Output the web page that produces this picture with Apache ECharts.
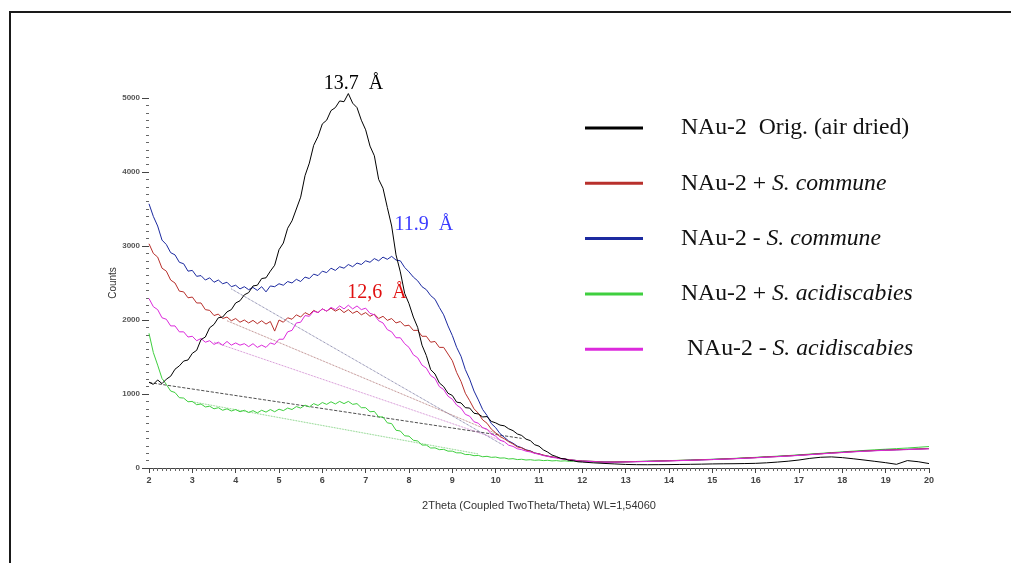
<!DOCTYPE html>
<html>
<head>
<meta charset="utf-8">
<script src="https://cdn.jsdelivr.net/npm/echarts@6/dist/echarts.min.js"></script>
<style>html,body{margin:0;padding:0;background:#fff;}#c{width:1011px;height:563px;}</style>
</head>
<body>
<div id="c"></div>
<script>
// 2Theta positions (deg)
const xLeft = [2.0,2.1,2.2,2.3,2.4,2.5,2.6,2.7,2.8,2.9,
  3.0,3.1,3.2,3.3,3.4,3.5,3.6,3.7,3.8,3.9,
  4.0,4.1,4.2,4.3,4.4,4.5,4.6,4.7,4.8,4.9,
  5.0,5.1,5.2,5.3,5.4,5.5,5.6,5.7,5.8,5.9,
  6.0,6.1,6.2,6.3,6.4,6.5,6.6,6.7,6.8,6.9,
  7.0,7.1,7.2,7.3,7.4,7.5,7.6,7.7,7.8,7.9,
  8.0,8.1,8.2,8.3,8.4,8.5,8.6,8.7,8.8,8.9,
  9.0,9.1,9.2,9.3,9.4,9.5,9.6,9.7,9.8,9.9,
  10.0,10.1,10.2,10.3,10.4,10.5,10.6,10.7,10.8,10.9,
  11.0,11.1,11.2,11.3,11.4,11.5,11.6,11.7,11.8,11.9,
  12.0];
const xRight = [12.25,12.5,12.75,13,13.25,13.5,13.75,14,14.25,14.5,14.75,15,15.25,15.5,15.75,16,
  16.25,16.5,16.75,17,17.25,17.5,17.75,18,18.25,18.5,18.75,19,19.25,19.5,19.75,20];

// Counts
const origLeft = [1160,1130,1190,1140,1200,1240,1335,1380,1445,1460,
  1550,1590,1735,1770,1895,1940,2030,2040,2110,2140,
  2230,2260,2340,2370,2460,2470,2560,2570,2660,2740,
  2950,3040,3240,3340,3500,3660,3950,4120,4360,4480,
  4650,4700,4830,4870,4960,4950,5060,4930,4870,4700,
  4570,4350,4220,3900,3780,3520,3270,2880,2650,2360,
  2220,2040,1900,1660,1520,1330,1270,1150,1100,1010,
  980,890,880,815,810,740,730,690,695,630,
  610,580,570,530,505,460,440,390,370,315,
  295,245,215,175,155,130,122,102,97,84,
  80];
const origRight = [70,62,55,48,45,44,45,46,48,50,52,55,57,58,60,63,70,80,92,108,130,145,150,140,125,108,90,72,50,100,85,60];

const plusCommLeft = [3030,2900,2850,2700,2660,2540,2500,2390,2380,2300,
  2310,2230,2230,2140,2130,2060,2080,2020,2040,1990,
  2020,1970,2000,1960,1995,1950,1990,1945,1980,1850,
  2000,1970,2030,2010,2070,2040,2100,2070,2130,2100,
  2150,2120,2160,2120,2150,2100,2140,2090,2120,2070,
  2100,2050,2080,2020,2050,1995,2020,1960,1980,1920,
  1930,1860,1860,1780,1780,1700,1710,1630,1630,1540,
  1450,1290,1170,1010,910,800,740,650,605,525,
  475,425,395,355,325,285,272,242,228,202,
  190,175,160,150,140,130,120,112,105,100,
  95];
const plusCommRight = [90,80,82,83,88,89,95,97,103,105,112,114,122,126,135,140,150,155,165,172,184,192,204,210,222,228,237,240,248,250,258,262];

const minusCommLeft = [3570,3400,3270,3080,3020,2910,2880,2780,2760,2660,
  2670,2590,2600,2540,2570,2510,2540,2490,2510,2450,
  2470,2420,2450,2410,2440,2400,2450,2380,2460,2450,
  2490,2470,2520,2500,2550,2520,2580,2560,2620,2600,
  2660,2640,2700,2670,2720,2700,2750,2720,2770,2750,
  2800,2780,2830,2800,2850,2820,2860,2810,2800,2710,
  2650,2580,2530,2450,2410,2330,2280,2170,2070,1920,
  1790,1630,1510,1330,1200,1040,920,790,710,600,
  545,465,415,365,335,295,275,245,232,203,
  192,172,162,148,142,128,122,110,106,98,
  95];
const minusCommRight = [88,82,80,84,86,90,93,98,101,106,110,116,120,127,133,141,148,156,163,173,182,193,202,212,220,229,235,242,246,252,256,263];

const plusAcidLeft = [1820,1560,1390,1210,1130,1040,1020,950,945,895,
  900,855,865,825,835,800,815,780,800,770,
  790,760,780,750,775,745,780,755,790,760,
  795,775,810,790,830,810,850,825,870,845,
  885,860,895,865,900,870,900,860,870,815,
  815,760,765,690,690,610,600,510,500,435,
  430,375,365,310,310,270,272,248,252,228,
  228,205,205,182,182,166,170,152,158,144,
  148,134,136,122,126,114,118,108,112,104,
  108,100,104,96,100,93,97,90,94,88,
  88];
const plusAcidRight = [85,76,80,84,88,92,96,100,104,108,113,118,124,130,137,144,152,160,168,178,188,198,208,218,228,237,246,254,262,270,280,290];

const minusAcidLeft = [2290,2180,2140,2030,2010,1920,1920,1840,1840,1770,
  1780,1720,1750,1700,1720,1670,1700,1660,1710,1660,
  1690,1660,1680,1640,1680,1630,1660,1630,1690,1670,
  1740,1740,1840,1860,1960,1970,2060,2050,2120,2100,
  2150,2120,2170,2140,2190,2150,2200,2150,2190,2140,
  2160,2090,2070,1990,1960,1870,1840,1760,1760,1680,
  1630,1530,1490,1390,1350,1250,1210,1100,1060,970,
  930,850,810,725,700,625,605,545,525,460,
  430,375,355,308,292,260,248,228,217,198,
  186,168,157,143,136,124,119,108,104,96,
  92];
const minusAcidRight = [86,78,79,82,85,88,92,96,100,104,109,114,119,125,131,138,146,153,161,170,180,190,200,209,218,226,233,239,244,249,254,260];

// background (baseline) lines: [2theta, counts] end points
const origBase = [[2.0,1155],[10.6,400]];
const minusCommBase = [[3.9,2420],[10.2,300]];
const plusCommBase = [[3.8,1990],[10.2,420]];
const minusAcidBase = [[3.5,1700],[10.2,360]];
const plusAcidBase = [[3.0,895],[9.6,190]];

// peak annotations: [2theta, counts, text]
const peakOrig = [6.72, 5190, '13.7  Å'];
const peakMinusComm = [8.34, 3290, '11.9  Å'];
const peakPlusComm = [7.26, 2372, '12,6  Å'];

const seriesNames = ['NAu-2  Orig. (air dried)', 'NAu-2 + S. commune', 'NAu-2 - S. commune', 'NAu-2 + S. acidiscabies', 'NAu-2 - S. acidiscabies'];
const legendRich = {
  'NAu-2  Orig. (air dried)': '{sp|}{n|NAu-2  Orig. (air dried)}',
  'NAu-2 + S. commune': '{sp|}{n|NAu-2 + }{i|S. commune}',
  'NAu-2 - S. commune': '{sp|}{n|NAu-2 - }{i|S. commune}',
  'NAu-2 + S. acidiscabies': '{sp|}{n|NAu-2 + }{i|S. acidiscabies}',
  'NAu-2 - S. acidiscabies': '{sp2|}{n|NAu-2 - }{i|S. acidiscabies}'
};

const X = xLeft.concat(xRight);
const pair = ys => X.map((x, i) => [x, ys[i]]);

const serif = 'Liberation Serif';
const sans = 'Liberation Sans';

function curve(name, color, data, z) {
  return {name, type:'line', data, showSymbol:false, symbol:'none', clip:false, z,
    lineStyle:{color, width:1}, itemStyle:{color}, emphasis:{disabled:true}};
}
function base(color, data, type) {
  return {name:'base', type:'line', data, showSymbol:false, symbol:'none', z:1,
    lineStyle:{color, width:0.8, type}, emphasis:{disabled:true}, silent:true};
}

const frame = {id:'frame', type:'polyline', shape:{points:[[10,563],[10,12],[1011,12]]},
  style:{stroke:'#1a1a1a', lineWidth:2, fill:null}, silent:true};

const chart = echarts.init(document.getElementById('c'), null, {renderer:'canvas'});
chart.setOption({
  animation:false,
  backgroundColor:'#ffffff',
  grid:{left:149, right:82, top:98, bottom:95, containLabel:false},
  xAxis:{type:'value', min:2, max:20, interval:1, offset:3,
    name:'2Theta (Coupled TwoTheta/Theta) WL=1,54060', nameLocation:'middle', nameGap:29,
    nameTextStyle:{fontFamily:sans, fontSize:11, color:'#333'},
    axisLine:{show:true, lineStyle:{color:'#444', width:1}},
    axisTick:{show:true, inside:false, length:5, lineStyle:{color:'#444'}},
    minorTick:{show:true, splitNumber:10, length:3, lineStyle:{color:'#666'}},
    axisLabel:{fontFamily:sans, fontSize:9, fontWeight:'bold', color:'#444', margin:5},
    splitLine:{show:false}},
  yAxis:{type:'value', min:0, max:5000, interval:1000,
    name:'Counts', nameLocation:'middle', nameGap:36, nameRotate:90, nameMoveOverlap:false,
    nameTextStyle:{fontFamily:sans, fontSize:10, color:'#333', verticalAlign:'middle'},
    axisLine:{show:false},
    axisTick:{show:true, inside:false, length:7, lineStyle:{color:'#444'}},
    minorTick:{show:true, splitNumber:10, length:3, lineStyle:{color:'#666'}},
    axisLabel:{fontFamily:sans, fontSize:8, fontWeight:'bold', color:'#555', margin:9,
      formatter: v => String(v)},
    splitLine:{show:false}},
  legend:{data:seriesNames, orient:'vertical', left:585, top:116, itemGap:31.3, padding:0,
    icon:'rect', itemWidth:58, itemHeight:3,
    formatter: n => legendRich[n],
    textStyle:{fontFamily:serif, fontSize:23.7, color:'#111',
      rich:{sp:{width:33}, sp2:{width:39},
        n:{fontFamily:serif, fontSize:23.7, color:'#111', lineHeight:24},
        i:{fontFamily:serif, fontSize:23.7, fontStyle:'italic', color:'#111', lineHeight:24}}},
    selectedMode:false},
  graphic:[frame],
  series:[
    base('#222222', origBase, 'dashed'),
    base('#4a4a80', minusCommBase, 'dotted'),
    base('#9a5050', plusCommBase, 'dotted'),
    base('#c060c0', minusAcidBase, 'dotted'),
    base('#50c050', plusAcidBase, 'dotted'),
    curve(seriesNames[3], '#3fcf3f', pair(plusAcidLeft.concat(plusAcidRight)), 2),
    curve(seriesNames[2], '#1c2aa0', pair(minusCommLeft.concat(minusCommRight)), 3),
    curve(seriesNames[1], '#b8302c', pair(plusCommLeft.concat(plusCommRight)), 4),
    curve(seriesNames[4], '#dc2adc', pair(minusAcidLeft.concat(minusAcidRight)), 5),
    curve(seriesNames[0], '#000000', pair(origLeft.concat(origRight)), 6)
  ]
});

// peak labels placed through the chart's own coordinate conversion
function peakText(id, p, color) {
  const pt = chart.convertToPixel({gridIndex:0}, [p[0], p[1]]);
  return {id, type:'text', x:pt[0], y:pt[1], z:20, silent:true,
    style:{text:p[2], fill:color, font:'20px "Liberation Serif"', textAlign:'center', textVerticalAlign:'middle'}};
}
chart.setOption({graphic:[frame,
  peakText('p1', peakOrig, '#000000'),
  peakText('p2', peakMinusComm, '#3c3cff'),
  peakText('p3', peakPlusComm, '#e01010')]});
</script>
</body>
</html>
